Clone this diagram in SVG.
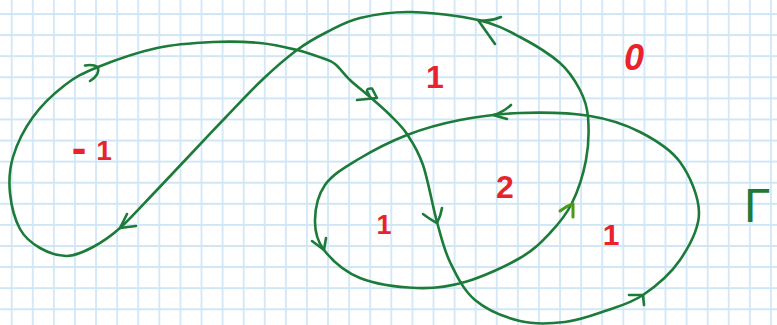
<svg xmlns="http://www.w3.org/2000/svg" width="777" height="325" viewBox="0 0 777 325">
<style>
.curve{fill:none;stroke:#1d7b3a;stroke-width:2.6;stroke-linecap:round;stroke-linejoin:round}
.arrow{fill:none;stroke:#1d7b3a;stroke-width:2.6;stroke-linecap:round;stroke-linejoin:round}
.arrow-lime{fill:none;stroke:#4a9a14;stroke-width:3;stroke-linecap:round;stroke-linejoin:round}
.num{font-family:"Liberation Sans","DejaVu Sans",sans-serif;font-weight:bold;fill:#e8232b;text-anchor:middle}
.gamma{font-family:"Liberation Sans","DejaVu Sans",sans-serif;fill:#1d7b3a}
</style>
<defs>
<pattern id="grid" x="1.155" y="3.455" width="21.09" height="21.09" patternUnits="userSpaceOnUse">
<path d="M10.545,0 V21.09 M0,10.545 H21.09" stroke="#cfe6f6" stroke-width="1.7" fill="none"/>
</pattern>
</defs>
<rect width="777" height="325" fill="#ffffff"/>
<rect width="777" height="325" fill="url(#grid)"/>
<g id="connectors">
<path id="loop" class="curve" d="M98,67 C113.3,60.8 137.8,52.2 157,48 C176.2,43.8 195.8,42.8 213,42 C230.2,41.2 246,41.7 260,43 C274,44.3 286.7,47.5 297,50 C307.3,52.5 315.7,55.7 322,58 C328.3,60.3 330.3,60.3 335,64 C339.7,67.7 344.2,74.5 350,80 C355.8,85.5 363.3,91.2 370,97 C376.7,102.8 383.8,108.8 390,115 C396.2,121.2 401.5,125.7 407,134 C412.5,142.3 418,150.3 423,165 C428,179.7 432.5,205.8 437,222 C441.5,238.2 443.7,249 450,262 C456.3,275 463.3,290.2 475,300 C486.7,309.8 505,317.3 520,321 C535,324.7 550.8,323.7 565,322 C579.2,320.3 592,315.5 605,311 C618,306.5 630.5,303.5 643,295 C655.5,286.5 670.7,273.7 680,260 C689.3,246.3 699,229.3 699,213 C699,196.7 689.8,175.5 680,162 C670.2,148.5 655,139.7 640,132 C625,124.3 610,119.2 590,116 C570,112.8 541.7,112.3 520,113 C498.3,113.7 478.8,116.3 460,120 C441.2,123.7 424.2,128.3 407,135 C389.8,141.7 370.7,151.7 357,160 C343.3,168.3 332,175 325,185 C318,195 315.2,209.2 315,220 C314.8,230.8 316.5,240.3 324,250 C331.5,259.7 344.5,271.7 360,278 C375.5,284.3 399.5,287.3 417,288 C434.5,288.7 447.8,287 465,282 C482.2,277 505.8,266.2 520,258 C534.2,249.8 541.3,242.2 550,233 C558.7,223.8 566,215.2 572,203 C578,190.8 583.3,174.3 586,160 C588.7,145.7 589,128.7 588,117 C587,105.3 584.7,99 580,90 C575.3,81 570,71.8 560,63 C550,54.2 533.7,44.2 520,37 C506.3,29.8 496.3,24.2 478,20 C459.7,15.8 429.7,12.3 410,12 C390.3,11.7 373.8,14.7 360,18 C346.2,21.3 337.5,26.7 327,32 C316.5,37.3 307.8,42 297,50 C286.2,58 273.8,68.8 262,80 C250.2,91.2 238,104.5 226,117 C214,129.5 201.8,142.5 190,155 C178.2,167.5 166.7,179.8 155,192 C143.3,204.2 130.3,218.8 120,228 C109.7,237.2 101.8,242.3 93,247 C84.2,251.7 75.8,255.8 67,256 C58.2,256.2 47.8,252.5 40,248 C32.2,243.5 25,238.2 20,229 C15,219.8 11.2,205 10,193 C8.8,181 9.2,169.7 13,157 C16.8,144.3 24.3,129 33,117 C41.7,105 54.2,93.3 65,85 C75.8,76.7 82.7,73.2 98,67 Z"/>
<path id="arrow-1" class="arrow" d="M85,65.5 Q93,64 98,67 Q100,75 90,81"/>
<path id="arrow-2" class="arrow" d="M357,100 Q367,99 377,98 L372,88.5 Q367,88 367,91 L370,97"/>
<path id="arrow-3" class="arrow" d="M423,214 Q431,220 437,223 Q441,215 442,208"/>
<path id="arrow-4" class="arrow" d="M629,295 L643,295 L644,305"/>
<path id="arrow-5" class="arrow" d="M511,105 Q502,113 493,115 L507,119"/>
<path id="arrow-6" class="arrow" d="M312,241 L324,250 L326,238"/>
<path id="arrow-7" class="arrow-lime" d="M560,211 Q566,206 573,204 L573,217"/>
<path id="arrow-8" class="arrow" d="M501,17 Q490,22 478,20 L495,44"/>
<path id="arrow-9" class="arrow" d="M127,214 L120,228 L136,226"/>
</g>
<g id="label-minus1"><text class="num" y="160" font-size="28"><tspan x="79" y="163" font-size="44">-</tspan><tspan x="104" y="160">1</tspan></text></g>
<g id="label-top1"><text class="num" x="435" y="88" font-size="32">1</text></g>
<g id="label-0"><text class="num" x="634" y="70" font-size="36" font-style="italic">0</text></g>
<g id="label-2"><text class="num" x="505" y="198" font-size="32">2</text></g>
<g id="label-left1"><text class="num" x="384" y="234" font-size="27">1</text></g>
<g id="label-right1"><text class="num" x="611" y="245" font-size="30">1</text></g>
<g id="label-gamma"><text class="gamma" x="744" y="222" font-size="48">Γ</text></g>
</svg>
